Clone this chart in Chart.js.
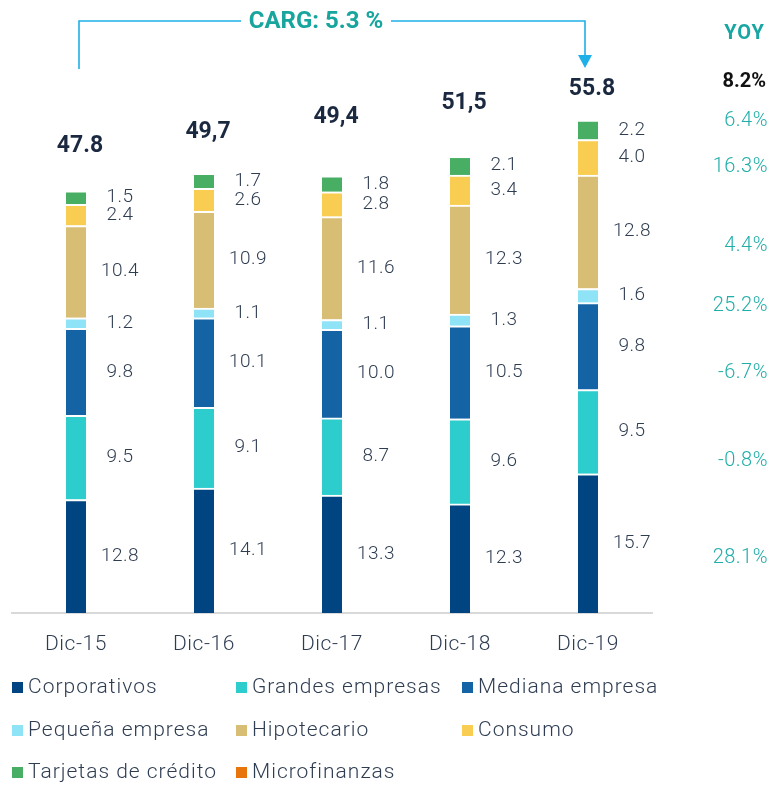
<!DOCTYPE html>
<html><head><meta charset="utf-8">
<script src="https://cdn.jsdelivr.net/npm/chart.js@4.4.1/dist/chart.umd.min.js"></script>
<style>html,body{margin:0;padding:0;background:#fff}#wrap{width:771px;height:785px;position:relative}</style>
</head><body><div id="wrap"><canvas id="c" width="771" height="785"></canvas></div>
<script>
const categories = ['Dic-15','Dic-16','Dic-17','Dic-18','Dic-19'];
const corporativos = [12.8, 14.1, 13.3, 12.3, 15.7];
const grandesEmpresas = [9.5, 9.1, 8.7, 9.6, 9.5];
const medianaEmpresa = [9.8, 10.1, 10.0, 10.5, 9.8];
const pequenaEmpresa = [1.2, 1.1, 1.1, 1.3, 1.6];
const hipotecario = [10.4, 10.9, 11.6, 12.3, 12.8];
const consumo = [2.4, 2.6, 2.8, 3.4, 4.0];
const tarjetas = [1.5, 1.7, 1.8, 2.1, 2.2];
const microfinanzas = [0, 0, 0, 0, 0];
const totalLabels = ['47.8','49,7','49,4','51,5','55.8'];
const yoyLabels = ['8.2%','6.4%','16.3%','4.4%','25.2%','-6.7%','-0.8%','28.1%'];
const cargLabel = 'CARG: 5.3 %';

const seriesNames = ['Corporativos','Grandes empresas','Mediana empresa','Pequeña empresa','Hipotecario','Consumo','Tarjetas de crédito','Microfinanzas'];
const seriesData = [corporativos, grandesEmpresas, medianaEmpresa, pequenaEmpresa, hipotecario, consumo, tarjetas, microfinanzas];
const seriesColors = ['#004481','#2dcccd','#1464a5','#8fe3f7','#d8be75','#f8cd51','#48ae64','#e8740c'];

const FONT = 'Roboto, "Noto Sans", sans-serif';
const LABEL_COLOR = '#2f3d52';

const overlay = {
  id: 'overlay',
  beforeDraw(chart) { chart.ctx.letterSpacing = '0.6px'; },
  afterDatasetsDraw(chart) {
    const ctx = chart.ctx;
    ctx.save();
    ctx.letterSpacing = '0.5px';
    // segment labels
    ctx.font = '300 19px ' + FONT;
    ctx.fillStyle = LABEL_COLOR;
    ctx.textAlign = 'center';
    ctx.textBaseline = 'middle';
    chart.data.datasets.forEach((ds, di) => {
      const meta = chart.getDatasetMeta(di);
      if (meta.hidden) return;
      meta.data.forEach((el, i) => {
        const v = ds.data[i];
        if (!v) return;
        ctx.fillText(v.toFixed(1), el.x + 44, (el.y + el.base) / 2);
      });
    });
    // totals along a straight line
    const m0 = chart.getDatasetMeta(0);
    ctx.letterSpacing = '0px';
    ctx.font = 'bold 23px ' + FONT;
    ctx.fillStyle = '#1b2940';
    const n = totalLabels.length;
    totalLabels.forEach((t, i) => {
      const y = 146 + (89 - 146) * i / (n - 1);
      ctx.fillText(t, m0.data[i].x + 4, y);
    });
    // YOY column
    ctx.textAlign = 'right';
    ctx.font = 'bold 20px ' + FONT;
    ctx.fillStyle = '#18a6a2';
    ctx.letterSpacing = '1px';
    ctx.fillText('YOY', 765, 34);
    ctx.letterSpacing = '0px';
    ctx.fillStyle = '#111';
    ctx.fillText(yoyLabels[0], 766, 82);
    const yoyY = [121, 167, 246, 306, 373, 461, 558];
    ctx.font = '300 20px ' + FONT;
    ctx.letterSpacing = '0.5px';
    ctx.fillStyle = '#20aea9';
    yoyLabels.slice(1).forEach((t, i) => ctx.fillText(t, 768, yoyY[i]));
    // CARG bracket
    const lx = m0.data[0].x + 3, rx = m0.data[n - 1].x - 3;
    ctx.strokeStyle = '#1eb0e6';
    ctx.lineWidth = 1.6;
    ctx.beginPath();
    ctx.moveTo(lx, 69); ctx.lineTo(lx, 21); ctx.lineTo(241, 21);
    ctx.moveTo(391, 21); ctx.lineTo(rx, 21); ctx.lineTo(rx, 56);
    ctx.stroke();
    ctx.fillStyle = '#1eb0e6';
    ctx.beginPath();
    ctx.moveTo(rx - 7, 55); ctx.lineTo(rx + 7, 55); ctx.lineTo(rx, 68); ctx.closePath();
    ctx.fill();
    ctx.textAlign = 'center';
    ctx.font = 'bold 24px ' + FONT;
    ctx.letterSpacing = '0px';
    ctx.fillStyle = '#17a59e';
    ctx.fillText(cargLabel, 316, 22);
    // legend
    const colX = [12, 236, 462], rowY = [688, 731, 773];
    ctx.textAlign = 'left';
    ctx.font = '300 21px ' + FONT;
    ctx.letterSpacing = '1px';
    chart.data.datasets.forEach((ds, i) => {
      const x = colX[i % 3], y = rowY[Math.floor(i / 3)];
      ctx.fillStyle = ds.backgroundColor;
      ctx.fillRect(x, y - 6, 11, 11);
      ctx.fillStyle = LABEL_COLOR;
      ctx.fillText(ds.label, x + 16, y);
    });
    ctx.restore();
  }
};

new Chart(document.getElementById('c'), {
  type: 'bar',
  data: {
    labels: categories,
    datasets: seriesNames.map((name, i) => ({
      label: name,
      data: seriesData[i],
      backgroundColor: seriesColors[i],
      borderColor: '#ffffff',
      borderWidth: {top: 2, bottom: 0, left: 0, right: 0},
      borderSkipped: false,
      barThickness: 20,
      hidden: seriesData[i].every(v => v === 0)
    }))
  },
  options: {
    responsive: false,
    animation: false,
    layout: {padding: {left: 12, right: 119, top: 81, bottom: 0}},
    plugins: {legend: {display: false}, tooltip: {enabled: false}},
    scales: {
      x: {
        stacked: true,
        grid: {display: false},
        border: {display: true, color: '#d9d9d9', width: 2},
        ticks: {font: {family: FONT, size: 21, weight: '300'}, color: LABEL_COLOR, padding: 11},
        afterFit(s) { s.height = 172; }
      },
      y: {stacked: true, display: false, min: 0, max: 60}
    }
  },
  plugins: [overlay]
});
</script></body></html>
